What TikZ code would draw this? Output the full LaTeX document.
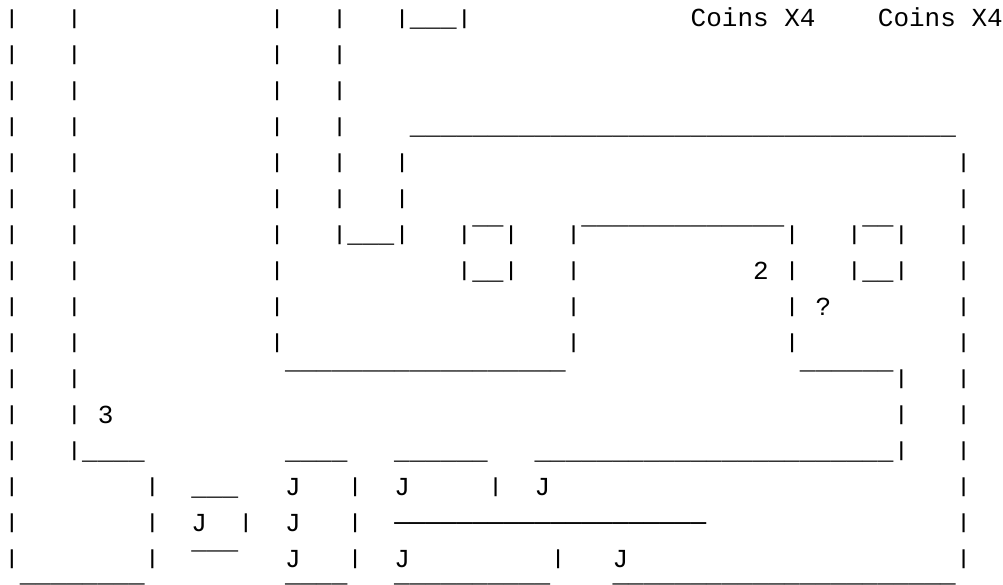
\documentclass[tikz,border=0pt]{standalone}
\usepackage{fontspec}
\usepackage{graphicx}
\usepackage{tikz}
\newfontfamily\mapfam{Liberation Mono}
\newcommand\mapfont{\mapfam\fontsize{26pt}{36pt}\selectfont}
% a shorter wall glyph, as in the printed map
\newcommand\wall{\raisebox{2.3pt}{\scalebox{1}[0.78]{|}}}

% runs of blanks and line glyphs, one per column
\ExplSyntaxOn
\NewDocumentCommand \skipc { m } { \hspace*{ #1 \dimexpr 0.6001em \relax } }
\NewDocumentCommand \unders { m } { \prg_replicate:nn {#1} { \_ } }
\NewDocumentCommand \overs { m } { \raisebox{-3pt}{ \prg_replicate:nn {#1} { ‾ } } }
\NewDocumentCommand \dashes { m } { \prg_replicate:nn {#1} { ─ } }
\ExplSyntaxOff

\begin{document}
\begin{tikzpicture}[x=15.6pt, y=-36pt,
    every node/.style={font=\mapfont, anchor=base west, inner sep=0pt, outer sep=0pt}]
  \useasboundingbox (-0.2692,-0.75) rectangle (64.0256,15.5);
  % one node per text row, columns at 0.6em
  \node (r1) at (0,0) {\wall\skipc{3}\wall\skipc{12}\wall\skipc{3}\wall\skipc{3}\wall\unders{3}\wall\skipc{14}Coins X4\skipc{4}Coins X4};
  \node (r2) at (0,1) {\wall\skipc{3}\wall\skipc{12}\wall\skipc{3}\wall};
  \node (r3) at (0,2) {\wall\skipc{3}\wall\skipc{12}\wall\skipc{3}\wall};
  \node (r4) at (0,3) {\wall\skipc{3}\wall\skipc{12}\wall\skipc{3}\wall\skipc{4}\unders{35}};
  \node (r5) at (0,4) {\wall\skipc{3}\wall\skipc{12}\wall\skipc{3}\wall\skipc{3}\wall\skipc{35}\wall};
  \node (r6) at (0,5) {\wall\skipc{3}\wall\skipc{12}\wall\skipc{3}\wall\skipc{3}\wall\skipc{35}\wall};
  \node (r7) at (0,6) {\wall\skipc{3}\wall\skipc{12}\wall\skipc{3}\wall\unders{3}\wall\skipc{3}\wall\overs{2}\wall\skipc{3}\wall\overs{13}\wall\skipc{3}\wall\overs{2}\wall\skipc{3}\wall};
  \node (r8) at (0,7) {\wall\skipc{3}\wall\skipc{12}\wall\skipc{11}\wall\unders{2}\wall\skipc{3}\wall\skipc{11}2\skipc{1}\wall\skipc{3}\wall\unders{2}\wall\skipc{3}\wall};
  \node (r9) at (0,8) {\wall\skipc{3}\wall\skipc{12}\wall\skipc{18}\wall\skipc{13}\wall\skipc{1}?\skipc{8}\wall};
  \node (r10) at (0,9) {\wall\skipc{3}\wall\skipc{12}\wall\skipc{18}\wall\skipc{13}\wall\skipc{10}\wall};
  \node (r11) at (0,10) {\wall\skipc{3}\wall\skipc{13}\overs{18}\skipc{15}\overs{6}\wall\skipc{3}\wall};
  \node (r12) at (0,11) {\wall\skipc{3}\wall\skipc{1}3\skipc{50}\wall\skipc{3}\wall};
  \node (r13) at (0,12) {\wall\skipc{3}\wall\unders{4}\skipc{9}\unders{4}\skipc{3}\unders{6}\skipc{3}\unders{23}\wall\skipc{3}\wall};
  \node (r14) at (0,13) {\wall\skipc{8}\wall\skipc{2}\unders{3}\skipc{3}J\skipc{3}\wall\skipc{2}J\skipc{5}\wall\skipc{2}J\skipc{26}\wall};
  \node (r15) at (0,14) {\wall\skipc{8}\wall\skipc{2}J\skipc{2}\wall\skipc{2}J\skipc{3}\wall\skipc{2}\dashes{20}\skipc{16}\wall};
  \node (r16) at (0,15) {\wall\skipc{8}\wall\skipc{2}\overs{3}\skipc{3}J\skipc{3}\wall\skipc{2}J\skipc{9}\wall\skipc{3}J\skipc{21}\wall};
  % last row only shows its top edge
  \node (r17) at (0,15.93) {\skipc{1}\overs{8}\skipc{9}\overs{4}\skipc{3}\overs{10}\skipc{4}\overs{22}};
\end{tikzpicture}
\end{document}
